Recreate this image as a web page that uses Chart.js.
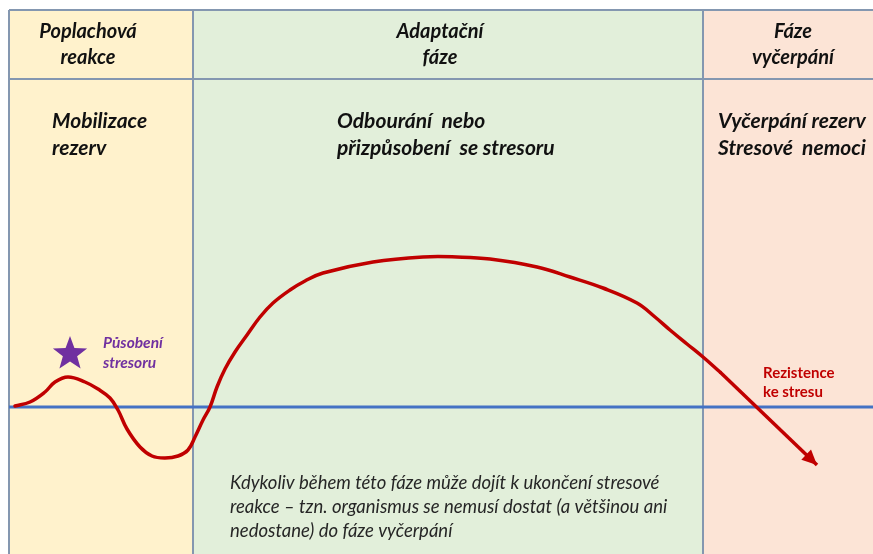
<!DOCTYPE html>
<html>
<head>
<meta charset="utf-8">
<script src="https://cdn.jsdelivr.net/npm/chart.js@4.4.1/dist/chart.umd.min.js"></script>
<style>
  html, body { margin: 0; padding: 0; background: #fff; }
  canvas { display: block; }
</style>
</head>
<body>
<canvas id="js-chart-stress" width="873" height="554"></canvas>
<script>
// Time axis (horizontal) and resistance level (0 = normal level, the blue line)
const curveX = [15, 30, 45, 55, 68, 85, 98, 110, 118, 127, 140, 152, 165, 178, 188, 195, 203, 210, 217, 225, 235, 247, 260, 273, 290, 305, 323, 373, 423, 457, 490, 537, 570, 603, 637, 655, 670, 687, 703, 720];
const curveY = [1, 5, 15, 25, 30, 25, 18, 9, -3, -22, -40, -49, -51, -49, -43, -30, -13, 0, 20, 38, 55, 72, 90, 104, 117, 126, 134, 145, 150, 150, 148, 140, 130, 119, 104, 90, 77, 63, 50, 35];
const arrowX = [720, 817];
const arrowY = [35, -58];

// Phases: boundaries on the time axis
const phaseBounds = [9, 193, 703, 873];
const phaseColors = ['#FFF2CC', '#E2EFDA', '#FCE4D6'];
const phaseTitles = [['Poplachová', 'reakce'], ['Adaptační', 'fáze'], ['Fáze', 'vyčerpání']];
const phaseTitleX = [88, 440, 793];
const phaseNotes = [['Mobilizace', 'rezerv'], ['Odbourání  nebo', 'přizpůsobení  se stresoru'], ['Vyčerpání rezerv', 'Stresové  nemoci']];
const phaseNoteX = [52, 337, 718];

// Level axis limits
const yTop = 397;       // top frame line
const yHeader = 328;    // line under the phase titles
const yMin = -147, yMax = 407;

// Star = stressor
const starPoint = {x: 70, y: 53};

let toPoints = (xs, ys) => xs.map((x, i) => ({x: x, y: ys[i]}));

// Background, frame and texts
const diagramPlugin = {
  id: 'diagram',
  beforeDatasetsDraw(chart) {
    const ctx = chart.ctx, sx = chart.scales.x, sy = chart.scales.y;
    const top = sy.getPixelForValue(yTop);
    const bottom = chart.height;
    const head = sy.getPixelForValue(yHeader);
    ctx.save();
    for (let i = 0; i < 3; i++) {
      let x0 = sx.getPixelForValue(phaseBounds[i]), x1 = sx.getPixelForValue(phaseBounds[i + 1]);
      ctx.fillStyle = phaseColors[i];
      ctx.fillRect(x0, top, x1 - x0, bottom - top);
    }
    ctx.strokeStyle = '#8497B0';
    ctx.lineWidth = 2;
    ctx.beginPath();
    ctx.moveTo(sx.getPixelForValue(phaseBounds[0]), top);
    ctx.lineTo(chart.width, top);
    ctx.moveTo(sx.getPixelForValue(phaseBounds[0]), head);
    ctx.lineTo(chart.width, head);
    for (let i = 0; i < 3; i++) {
      let x = sx.getPixelForValue(phaseBounds[i]);
      ctx.moveTo(x, top);
      ctx.lineTo(x, bottom);
    }
    ctx.stroke();

    // baseline (normal resistance)
    ctx.strokeStyle = '#4472C4';
    ctx.lineWidth = 3;
    ctx.beginPath();
    ctx.moveTo(sx.getPixelForValue(phaseBounds[0]), sy.getPixelForValue(0));
    ctx.lineTo(chart.width, sy.getPixelForValue(0));
    ctx.stroke();

    // titles
    ctx.fillStyle = '#111';
    ctx.textBaseline = 'middle';
    ctx.font = 'italic bold 20px Lato';
    ctx.textAlign = 'center';
    phaseTitles.forEach((lines, i) => {
      lines.forEach((t, j) => ctx.fillText(t, phaseTitleX[i], 32 + j * 26));
    });
    ctx.font = 'italic bold 21px Lato';
    ctx.textAlign = 'left';
    phaseNotes.forEach((lines, i) => {
      lines.forEach((t, j) => ctx.fillText(t, phaseNoteX[i], 121 + j * 27));
    });

    // star
    let cx = sx.getPixelForValue(starPoint.x), cy = sy.getPixelForValue(starPoint.y);
    let R = 18, r = 7.5;
    ctx.fillStyle = '#7030A0';
    ctx.beginPath();
    for (let k = 0; k < 10; k++) {
      let a = -Math.PI / 2 + k * Math.PI / 5;
      let rad = k % 2 === 0 ? R : r;
      ctx.lineTo(cx + rad * Math.cos(a), cy + rad * Math.sin(a));
    }
    ctx.closePath();
    ctx.fill();

    ctx.font = 'italic bold 15.5px Lato';
    ctx.fillText('Působení', 103, 343);
    ctx.fillText('stresoru', 103, 363);

    ctx.fillStyle = '#C00000';
    ctx.font = 'bold 15px Lato';
    ctx.fillText('Rezistence', 763, 373);
    ctx.fillText('ke stresu', 763, 392);

    ctx.fillStyle = '#262626';
    ctx.font = 'italic 18.5px Lato';
    ctx.fillText('Kdykoliv během této fáze může dojít k ukončení stresové', 230, 483);
    ctx.fillText('reakce – tzn. organismus se nemusí dostat (a většinou ani', 230, 507);
    ctx.fillText('nedostane) do fáze vyčerpání', 230, 531);
    ctx.restore();
  },
  afterDatasetsDraw(chart) {
    // arrow head at the end of the exhaustion line
    const ctx = chart.ctx, sx = chart.scales.x, sy = chart.scales.y;
    let x0 = sx.getPixelForValue(arrowX[0]), y0 = sy.getPixelForValue(arrowY[0]);
    let x1 = sx.getPixelForValue(arrowX[1]), y1 = sy.getPixelForValue(arrowY[1]);
    let a = Math.atan2(y1 - y0, x1 - x0);
    let len = 15, w = 7;
    ctx.save();
    ctx.fillStyle = '#C00000';
    ctx.beginPath();
    ctx.moveTo(x1, y1);
    ctx.lineTo(x1 - len * Math.cos(a) + w * Math.sin(a), y1 - len * Math.sin(a) - w * Math.cos(a));
    ctx.lineTo(x1 - len * Math.cos(a) - w * Math.sin(a), y1 - len * Math.sin(a) + w * Math.cos(a));
    ctx.closePath();
    ctx.fill();
    ctx.restore();
  }
};

let chartStress = new Chart(document.getElementById('js-chart-stress'), {
  type: 'line',
  data: {
    datasets: [
      {
        data: toPoints(curveX, curveY),
        borderColor: '#C00000',
        borderWidth: 3.5,
        pointRadius: 0,
        tension: 0.4,
        borderCapStyle: 'round'
      },
      {
        data: toPoints(arrowX, arrowY),
        borderColor: '#C00000',
        borderWidth: 3.5,
        pointRadius: 0,
        tension: 0
      }
    ]
  },
  options: {
    responsive: false,
    animation: false,
    devicePixelRatio: 1,
    layout: {padding: 0},
    plugins: {legend: {display: false}, tooltip: {enabled: false}},
    scales: {
      x: {type: 'linear', min: 0, max: 873, display: false},
      y: {type: 'linear', min: yMin, max: yMax, display: false}
    }
  },
  plugins: [diagramPlugin]
});
</script>
</body>
</html>
